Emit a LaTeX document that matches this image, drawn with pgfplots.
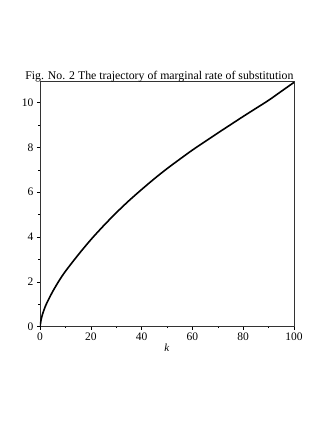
\documentclass[border=0pt]{standalone}
\usepackage{fontspec}
\setmainfont{Liberation Serif}
\usepackage{pgfplots}
\pgfplotsset{compat=1.18}

\begin{document}
\begin{tikzpicture}
\useasboundingbox (-40pt,-96.3pt) rectangle (287pt,326.7pt);
\begin{axis}[
    at={(0,0)}, anchor=south west,
    scale only axis,
    width=254pt, height=245pt,
    xmin=0, xmax=100, ymin=0, ymax=10.93,
    xtick={0,20,...,100}, ytick={0,2,...,10},
    minor tick num=1,
    tick align=outside,
    xtick pos=left, ytick pos=left,
    major tick length=3pt, minor tick length=1.5pt,
    axis line style={black!80, line width=0.6pt},
    tick style={black, line width=0.5pt},
    tick label style={font=\fontsize{11.5}{12}\selectfont},
    /pgf/number format/assume math mode=true,
    xlabel={\textit{k}},
    xlabel style={font=\fontsize{11}{12}\selectfont, yshift=4pt},
    every axis title shift=0pt,
    title={Fig. No. 2 The trajectory of marginal rate of substitution},
    title style={at={(0.47,1)}, anchor=base, yshift=2.5pt, inner sep=0pt,
                 font=\fontsize{11.8}{13}\selectfont},
]
\addplot[black, line width=1.6pt, smooth, tension=0.5] coordinates {
    (0,0) (0.5,0.35) (1,0.56) (2,0.88) (3,1.13) (5,1.57) (7.5,2.05)
    (10,2.47) (15,3.2) (20,3.88) (25,4.5) (30,5.08) (35,5.62) (40,6.12)
    (45,6.6) (50,7.05) (55,7.47) (60,7.88) (65,8.26) (70,8.64) (75,9.01)
    (80,9.38) (85,9.74) (90,10.1) (95,10.5) (100,10.9)
};
\end{axis}
\end{tikzpicture}
\end{document}
